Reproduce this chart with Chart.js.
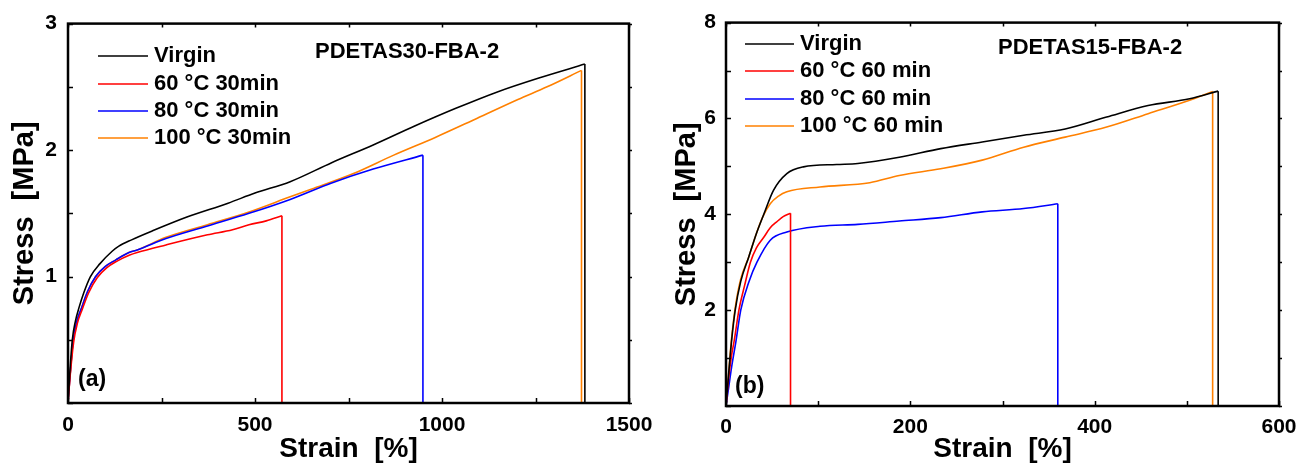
<!DOCTYPE html>
<html>
<head>
<meta charset="utf-8">
<script src="https://cdn.jsdelivr.net/npm/chart.js@4/dist/chart.umd.min.js"></script>
<style>
  html, body { margin:0; padding:0; background:#fff; }
  #wrap { position:relative; width:1301px; height:466px; overflow:hidden; }
  canvas { position:absolute; top:0; }
</style>
</head>
<body>
<div id="wrap">
  <canvas id="chartA" width="680" height="466" style="left:0"></canvas>
  <canvas id="chartB" width="660" height="466" style="left:650px"></canvas>
</div>
<script>
/* panel (a): PDETAS30-FBA-2, 30 min (each curve ends at break, then drops to 0) */
const labelsA = ["Virgin", "60 °C 30min", "80 °C 30min", "100 °C 30min"];
const virginAx = [0, 4, 11.5, 20, 29, 42, 60, 85, 118, 136, 170, 225, 318, 428, 500, 594, 705, 816, 927, 1037, 1148, 1259, 1382];
const virginAy = [0, 0.2, 0.5, 0.65, 0.75, 0.87, 1.0, 1.1, 1.2, 1.24, 1.29, 1.36, 1.47, 1.58, 1.66, 1.75, 1.90, 2.04, 2.19, 2.33, 2.46, 2.57, 2.68];
const t60Ax = [0, 5, 15, 25, 38, 55, 78, 104, 130, 165, 185, 262, 373, 440, 484, 530, 572];
const t60Ay = [0, 0.19, 0.48, 0.63, 0.74, 0.87, 0.99, 1.07, 1.12, 1.17, 1.19, 1.25, 1.33, 1.37, 1.41, 1.44, 1.48];
const t80Ax = [0, 5, 14, 24, 36, 52, 74, 100, 127, 163, 185, 262, 373, 484, 594, 705, 816, 949];
const t80Ay = [0, 0.2, 0.5, 0.65, 0.75, 0.88, 1.0, 1.08, 1.13, 1.19, 1.21, 1.30, 1.40, 1.50, 1.61, 1.74, 1.85, 1.96];
const t100Ax = [0, 5, 14, 24, 36, 52, 74, 100, 127, 163, 185, 262, 373, 484, 594, 650, 760, 871, 982, 1093, 1203, 1281, 1373];
const t100Ay = [0, 0.2, 0.5, 0.65, 0.75, 0.88, 1.0, 1.08, 1.13, 1.19, 1.21, 1.31, 1.41, 1.51, 1.63, 1.69, 1.81, 1.96, 2.10, 2.25, 2.40, 2.50, 2.63];

/* panel (b): PDETAS15-FBA-2, 60 min */
const labelsB = ["Virgin", "60 °C 60 min", "80 °C 60 min", "100 °C 60 min"];
const virginBx = [0, 3, 6, 10, 16, 24.5, 33, 41, 51.5, 66, 84, 120, 143, 188, 233, 278, 323, 368, 413, 458, 503, 534];
const virginBy = [0, 0.7, 1.35, 2.0, 2.6, 3.1, 3.6, 4.0, 4.5, 4.85, 4.99, 5.04, 5.06, 5.19, 5.37, 5.51, 5.65, 5.78, 6.03, 6.27, 6.41, 6.57];
const t60Bx = [0, 3, 6, 9, 14, 20, 26.5, 33, 41, 48, 55.5, 62, 70];
const t60By = [0, 0.6, 1.05, 1.375, 2.0, 2.5, 3.0, 3.3, 3.52, 3.72, 3.85, 3.95, 4.02];
const t80Bx = [0, 3, 6, 11, 16, 25, 33.6, 48, 66, 102, 143, 188, 233, 278, 323, 360];
const t80By = [0, 0.4, 0.8, 1.375, 2.0, 2.6, 3.0, 3.46, 3.63, 3.75, 3.79, 3.86, 3.93, 4.05, 4.12, 4.22];
const t100Bx = [0, 3, 6, 10, 16, 24.5, 33, 40, 48, 57, 66, 102, 156, 188, 233, 278, 323, 368, 413, 458, 503, 528];
const t100By = [0, 0.72, 1.4, 2.05, 2.65, 3.1, 3.6, 3.95, 4.22, 4.38, 4.47, 4.57, 4.66, 4.81, 4.95, 5.13, 5.40, 5.61, 5.82, 6.10, 6.38, 6.56];

const colors = ["#000000", "#ff0000", "#0000ff", "#ff8000"];
const FONT = "'Liberation Sans', Arial, sans-serif";

function pts(xs, ys){ return xs.map((x,i) => ({x, y: ys[i]})); }

// frame, inward ticks, legend and labels drawn over the plot
const framePlugin = {
  id: 'frame',
  afterDatasetsDraw(chart, args, o){
    const {ctx, chartArea:a, scales:{x, y}} = chart;
    ctx.save();
    ctx.strokeStyle = '#000';
    ctx.lineWidth = 1.5;
    ctx.beginPath();
    x.ticks.forEach(t => {
      const px = Math.round(x.getPixelForValue(t.value)) + 0.5;
      ctx.moveTo(px, a.bottom); ctx.lineTo(px, a.bottom - 5);
      ctx.moveTo(px, a.top); ctx.lineTo(px, a.top + 4);
    });
    y.ticks.forEach(t => {
      const py = Math.round(y.getPixelForValue(t.value)) + 0.5;
      ctx.moveTo(a.left, py); ctx.lineTo(a.left + 5, py);
      ctx.moveTo(a.right, py); ctx.lineTo(a.right + 3, py);
    });
    ctx.stroke();
    ctx.lineWidth = 2.5;
    ctx.strokeRect(a.left, a.top, a.right - a.left, a.bottom - a.top);

    // legend
    ctx.font = "bold 22px " + FONT;
    ctx.textBaseline = 'middle';
    ctx.textAlign = 'left';
    o.legend.labels.forEach((lab, i) => {
      const yy = o.legend.rows[i];
      ctx.strokeStyle = colors[i];
      ctx.lineWidth = 1.5;
      ctx.beginPath();
      ctx.moveTo(o.legend.x0, yy); ctx.lineTo(o.legend.x1, yy);
      ctx.stroke();
      ctx.fillStyle = '#000';
      ctx.fillText(lab, o.legend.tx, yy);
    });
    ctx.font = "bold 22px " + FONT;
    ctx.fillText(o.tag.text, o.tag.x, o.tag.y);
    ctx.font = "bold 23px " + FONT;
    ctx.fillText(o.panel.text, o.panel.x, o.panel.y);
    ctx.restore();
  }
};

function makeChart(id, cfg){
  const datasets = [];
  cfg.series.forEach((s, i) => {
    const xs = s[0], ys = s[1], n = xs.length - 1;
    datasets.push({
      label: cfg.labels[i],
      data: pts(xs, ys),
      borderColor: colors[i],
      borderWidth: 1.6,
      pointRadius: 0,
      cubicInterpolationMode: 'monotone',
      order: i === 0 ? 0 : 1
    });
    // vertical drop at break
    datasets.push({
      label: cfg.labels[i] + ' break',
      data: [{x: xs[n], y: ys[n]}, {x: xs[n], y: 0}],
      borderColor: colors[i],
      borderWidth: 1.6,
      pointRadius: 0,
      order: i === 0 ? 0 : 1
    });
  });
  return new Chart(document.getElementById(id).getContext('2d'), {
    type: 'scatter',
    data: { datasets },
    options: {
      responsive: false,
      animation: false,
      showLine: true,
      layout: { padding: { top: 22, right: cfg.padRight, left: 0, bottom: 0 } },
      plugins: {
        legend: { display: false },
        tooltip: { enabled: false },
        frame: Object.assign({}, cfg.frame, { legend: Object.assign({ labels: cfg.labels }, cfg.frame.legend) })
      },
      scales: {
        x: {
          type: 'linear', min: 0, max: cfg.xMax,
          grid: { display: false, drawTicks: false },
          border: { display: false },
          ticks: {
            stepSize: cfg.xStep, autoSkip: false, maxRotation: 0,
            padding: cfg.xPad, color: '#000',
            font: { family: FONT, size: 21, weight: 'bold' },
            callback: v => (v % cfg.xMajor === 0 ? v : '')
          },
          title: {
            display: true, text: 'Strain  [%]', color: '#000',
            font: { family: FONT, size: 28, weight: 'bold' },
            padding: { top: 0, bottom: 0 }
          },
          afterFit: s => { s.height = cfg.xHeight; }
        },
        y: {
          type: 'linear', min: 0, max: cfg.yMax,
          grid: { display: false, drawTicks: false },
          border: { display: false },
          ticks: {
            stepSize: cfg.yStep, autoSkip: false,
            padding: cfg.yPad, color: '#000',
            font: { family: FONT, size: 21, weight: 'bold' },
            callback: v => (v > 0 && Math.abs(v / cfg.yMajor - Math.round(v / cfg.yMajor)) < 1e-9 ? v : '')
          },
          title: {
            display: true, text: 'Stress  [MPa]', color: '#000',
            font: { family: FONT, size: 29, weight: 'bold' },
            padding: { top: cfg.yTitlePad, bottom: 0 }
          },
          afterFit: s => { s.width = cfg.yWidth; }
        }
      }
    },
    plugins: [framePlugin]
  });
}

const chartA = makeChart('chartA', {
  labels: labelsA,
  series: [[virginAx, virginAy], [t60Ax, t60Ay], [t80Ax, t80Ay], [t100Ax, t100Ay]],
  xMax: 1500, xStep: 250, xMajor: 500,
  yMax: 3, yStep: 0.5, yMajor: 1,
  padRight: 51, xHeight: 63, yWidth: 68, xPad: 10, yPad: 11, yTitlePad: 8,
  frame: {
    legend: { x0: 98, x1: 148, tx: 154, rows: [56, 84, 111, 138] },
    tag: { text: 'PDETAS30-FBA-2', x: 315, y: 52 },
    panel: { text: '(a)', x: 78, y: 380 }
  }
});

const chartB = makeChart('chartB', {
  labels: labelsB,
  series: [[virginBx, virginBy], [t60Bx, t60By], [t80Bx, t80By], [t100Bx, t100By]],
  xMax: 600, xStep: 100, xMajor: 200,
  yMax: 8, yStep: 1, yMajor: 2,
  padRight: 31, xHeight: 60, yWidth: 76, xPad: 9, yPad: 10, yTitlePad: 20,
  frame: {
    legend: { x0: 95, x1: 144, tx: 150, rows: [44, 71, 99, 126] },
    tag: { text: 'PDETAS15-FBA-2', x: 348, y: 48 },
    panel: { text: '(b)', x: 85, y: 387 }
  }
});
</script>
</body>
</html>
